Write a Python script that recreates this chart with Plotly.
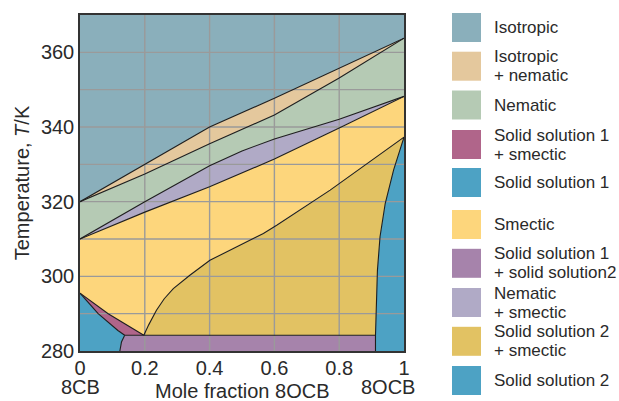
import plotly.graph_objects as go

# ---------------- data ----------------
X_TICKS = [0, 0.2, 0.4, 0.6, 0.8, 1]
X_TICK_TEXT = ["0", "0.2", "0.4", "0.6", "0.8", "1"]
Y_TICKS = [280, 300, 320, 340, 360]
X_GRID = [0.2, 0.4, 0.6, 0.8]
Y_GRID = [290, 300, 310, 320, 330, 340, 350, 360]
T_MIN, T_MAX = 280, 370

# isotropic / (isotropic + nematic) boundary
liq_x = [0, 0.2, 0.4, 0.6, 0.8, 1.0]
liq_T = [320, 330, 340, 347.7, 355.8, 363.8]
# (isotropic + nematic) / nematic boundary
nem_x = [0, 0.2, 0.4, 0.6, 0.8, 1.0]
nem_T = [320, 327.4, 335.5, 343.2, 353.1, 363.8]
# nematic / (nematic + smectic) boundary
nsu_x = [0, 0.2, 0.4, 0.5, 0.6, 0.8, 1.0]
nsu_T = [310, 320, 329.6, 333.6, 336.8, 342.1, 348.2]
# (nematic + smectic) / smectic boundary
nsl_x = [0, 0.2, 0.4, 0.6, 0.8, 1.0]
nsl_T = [310, 317.2, 324.0, 331.4, 339.7, 348.2]
# smectic / (solid solution 2 + smectic) boundary
sm_x = [0.197, 0.212, 0.236, 0.26, 0.288, 0.339, 0.401, 0.483, 0.566, 0.607, 0.7, 0.772, 1.0]
sm_T = [284.2, 287.0, 290.9, 294.0, 296.7, 300.3, 304.3, 307.9, 311.5, 313.7, 319.1, 323.1, 337.3]
# (solid solution 2 + smectic) / solid solution 2 boundary
s2_x = [1.0, 0.968, 0.942, 0.926, 0.918, 0.914, 0.912, 0.912]
s2_T = [337.3, 328.5, 319.5, 310.6, 301.6, 292.7, 284.2, 280]
# solid solution 1 + smectic wedge
s1u_x = [0, 0.087, 0.197]
s1u_T = [295.5, 290, 284.2]
s1l_x = [0, 0.056, 0.117, 0.138]
s1l_T = [295.5, 290, 285.5, 284.2]
# solid solution 1 / (solid solution 1 + solid solution 2) boundary
ssl_x = [0.138, 0.128, 0.123]
ssl_T = [284.2, 282.4, 280]
EUT_T = 284.2

LEGEND_NAMES = ["Isotropic", "Isotropic + nematic", "Nematic",
                "Solid solution 1 + smectic", "Solid solution 1", "Smectic",
                "Solid solution 1 + solid solution2", "Nematic + smectic",
                "Solid solution 2 + smectic", "Solid solution 2"]
LEGEND_LINES = [["Isotropic"], ["Isotropic", "+ nematic"], ["Nematic"],
                ["Solid solution 1", "+ smectic"], ["Solid solution 1"], ["Smectic"],
                ["Solid solution 1", "+ solid solution2"], ["Nematic", "+ smectic"],
                ["Solid solution 2", "+ smectic"], ["Solid solution 2"]]

# ---------------- style ----------------
COLORS = {
    "Isotropic": "#8aafbb",
    "Isotropic + nematic": "#e4c89d",
    "Nematic": "#b5cab4",
    "Solid solution 1 + smectic": "#b0658a",
    "Solid solution 1": "#4da2c4",
    "Smectic": "#fdd67c",
    "Solid solution 1 + solid solution2": "#a683ab",
    "Nematic + smectic": "#b0aac6",
    "Solid solution 2 + smectic": "#e2c263",
    "Solid solution 2": "#4da2c4",
}
FONT = "Liberation Sans, Arial, sans-serif"
TXT = "#2a2a2a"
W, H = 619, 401
ML, MR, MT, MB = 80, 215, 15, 50
PW, PH = W - ML - MR, H - MT - MB


def rev(a):
    return list(a)[::-1]


regions = {
    "Isotropic": (liq_x + [1, 0], liq_T + [T_MAX, T_MAX]),
    "Isotropic + nematic": (liq_x + rev(nem_x), liq_T + rev(nem_T)),
    "Nematic": (nem_x + rev(nsu_x), nem_T + rev(nsu_T)),
    "Nematic + smectic": (nsu_x + rev(nsl_x), nsu_T + rev(nsl_T)),
    "Smectic": (nsl_x + rev(sm_x) + rev(s1u_x), nsl_T + rev(sm_T) + rev(s1u_T)),
    "Solid solution 2 + smectic": (sm_x + s2_x[:7], sm_T + s2_T[:7]),
    "Solid solution 2": (s2_x + [1], s2_T + [T_MIN]),
    "Solid solution 1 + solid solution2": (ssl_x + [s2_x[-1], s2_x[-2]],
                                           ssl_T + [T_MIN, EUT_T]),
    "Solid solution 1 + smectic": (s1u_x + rev(s1l_x), s1u_T + rev(s1l_T)),
    "Solid solution 1": (s1l_x + ssl_x[1:] + [0], s1l_T + ssl_T[1:] + [T_MIN]),
}

fig = go.Figure()
for name, (xs, ts) in regions.items():
    fig.add_trace(go.Scatter(x=xs, y=ts, fill="toself", fillcolor=COLORS[name],
                             mode="lines", line=dict(width=0), name=name,
                             showlegend=False, hoverinfo="name"))

# grid lines above the fills
gx, gy = [], []
for v in X_GRID:
    gx += [v, v, None]
    gy += [T_MIN, T_MAX, None]
for v in Y_GRID:
    gx += [0, 1, None]
    gy += [v, v, None]
fig.add_trace(go.Scatter(x=gx, y=gy, mode="lines", line=dict(color="#9a9a9a", width=1.4),
                         showlegend=False, hoverinfo="skip"))

# phase boundaries
bounds = [(liq_x, liq_T), (nem_x, nem_T), (nsu_x, nsu_T), (nsl_x, nsl_T),
          (sm_x, sm_T), (s2_x, s2_T), (s1u_x, s1u_T), (s1l_x, s1l_T),
          (ssl_x, ssl_T), ([ssl_x[0], s2_x[-2]], [EUT_T, EUT_T])]
for xs, ts in bounds:
    fig.add_trace(go.Scatter(x=xs, y=ts, mode="lines", line=dict(color="#1e1e1e", width=1.1),
                             showlegend=False, hoverinfo="skip"))


def px2paper_x(px):
    return (px - ML) / PW


def py2paper_y(py):
    return (H - MB - py) / PH


# manual legend
ROW_CENTERS = [27.5, 66.2, 105, 144.5, 182.5, 224.5, 263.3, 302.5, 341.3, 380.5]
shapes, annots = [], []
for name, lines, cy in zip(LEGEND_NAMES, LEGEND_LINES, ROW_CENTERS):
    shapes.append(dict(type="rect", xref="paper", yref="paper",
                       x0=px2paper_x(452), x1=px2paper_x(481),
                       y0=py2paper_y(cy + 14.5), y1=py2paper_y(cy - 14.5),
                       fillcolor=COLORS[name], line=dict(width=0)))
    n = len(lines)
    for i, t in enumerate(lines):
        off = (i - (n - 1) / 2) * 19
        annots.append(dict(text=t, xref="paper", yref="paper", x=px2paper_x(492),
                           y=py2paper_y(cy + off), xanchor="left", yanchor="middle",
                           showarrow=False, font=dict(family=FONT, size=17, color=TXT)))

annots.append(dict(text="8CB", x=0, xref="x", y=py2paper_y(387), yref="paper",
                   xanchor="center", yanchor="middle", showarrow=False,
                   font=dict(family=FONT, size=20, color=TXT)))
annots.append(dict(text="8OCB", x=1, xref="x", y=py2paper_y(387), yref="paper",
                   xanchor="center", yanchor="middle", xshift=-16, showarrow=False,
                   font=dict(family=FONT, size=20, color=TXT)))
annots.append(dict(text="Mole fraction 8OCB", x=0.5, xref="paper", y=py2paper_y(391),
                   yref="paper", xanchor="center", yanchor="middle", showarrow=False,
                   font=dict(family=FONT, size=20, color=TXT)))

fig.update_layout(
    width=W, height=H, margin=dict(l=ML, r=MR, t=MT, b=MB),
    paper_bgcolor="white", plot_bgcolor="white",
    font=dict(family=FONT, size=20, color=TXT),
    shapes=shapes, annotations=annots, showlegend=False,
    xaxis=dict(range=[0, 1], tickvals=X_TICKS, ticktext=X_TICK_TEXT, showgrid=False,
               zeroline=False, showline=True, mirror=True, linecolor="#333",
               linewidth=1.5, ticks="", fixedrange=True, automargin=False,
               ticklabelstandoff=-2),
    yaxis=dict(range=[T_MIN, T_MAX], tickvals=Y_TICKS, showgrid=False, zeroline=False,
               showline=True, mirror=True, linecolor="#333", linewidth=1.5, ticks="",
               title=dict(text="Temperature, <i>T</i>/K", standoff=6,
                          font=dict(family=FONT, size=20, color=TXT)),
               fixedrange=True, automargin=False),
)

fig.write_html("out.html", config={"displayModeBar": False},
               post_script="document.body.style.margin='0';")
